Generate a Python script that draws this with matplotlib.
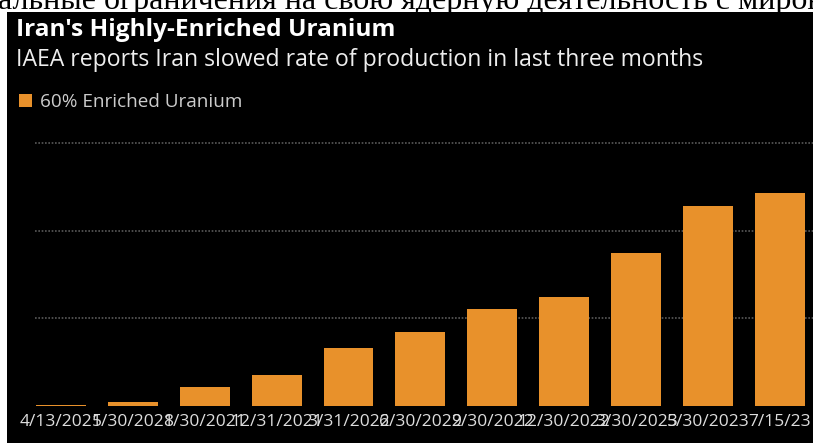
import matplotlib.pyplot as plt
from matplotlib.patches import Rectangle

# stockpile of 60% enriched uranium, kg
dates = ["4/13/2021", "5/30/2021", "8/30/2021", "12/31/2021", "3/31/2022",
         "6/30/2022", "9/30/2022", "12/30/2022", "3/30/2023", "5/30/2023",
         "7/15/23"]
stock_kg = [0.7, 2.4, 10.8, 17.7, 33.2, 42.0, 55.6, 62.3, 87.5, 114.1, 121.6]
grid_levels = [50, 100, 150]

W, H = 813, 443
fig = plt.figure(figsize=(W / 100, H / 100), dpi=100, facecolor="white")

# bit of article text above the graphic
fig.text(-2 / W, 1 - 9 / H, "альные ограничения на свою ядерную деятельность с мирово",
         family="Liberation Serif", fontsize=23, color="black", va="baseline", zorder=0)

# black background of the graphic
fig.patches.append(Rectangle((7 / W, 0), 1, (H - 12) / H, transform=fig.transFigure,
                             facecolor="black", edgecolor="none", zorder=1))

fig.text(16 / W, 1 - 36 / H, "Iran's Highly-Enriched Uranium", family="Open Sans",
         weight="bold", fontsize=17.6, color="white", va="baseline", zorder=3)
fig.text(16 / W, 1 - 66 / H, "IAEA reports Iran slowed rate of production in last three months",
         family="Open Sans", fontsize=16.6, color="#eeeeee", va="baseline", zorder=3)

orange = "#E8912B"
fig.patches.append(Rectangle((19 / W, 1 - 107 / H), 13 / W, 13 / H, transform=fig.transFigure,
                             facecolor=orange, edgecolor="none", zorder=3))
fig.text(40 / W, 1 - 107 / H, "60% Enriched Uranium", family="Open Sans", fontsize=13.6,
         color="#cccccc", va="baseline", zorder=3)

# axes: baseline at y=406px, 150 kg at y=143px
y0 = 406
px_per_kg = (406 - 143) / 150
ytop = 160
ax = fig.add_axes([35 / W, (H - y0) / H, 1 - 35 / W, ytop * px_per_kg / H], zorder=2)
ax.set_facecolor("none")

x = list(range(len(dates)))
ax.bar(x, stock_kg, width=0.695, color=orange, zorder=3)
for g in grid_levels:
    ax.axhline(g, color="#5a5a5a", linewidth=1.2, linestyle=(0, (1, 1)), zorder=1)

ax.set_xlim(-0.36, 10.46)
ax.set_ylim(0, ytop)
ax.set_xticks(x)
ax.set_xticklabels(dates, family="Open Sans", fontsize=12.5, color="#dddddd")
ax.tick_params(axis="x", length=0, pad=6)
ax.set_yticks([])
for s in ax.spines.values():
    s.set_visible(False)

fig.savefig("out.png", dpi=100, facecolor="white")
